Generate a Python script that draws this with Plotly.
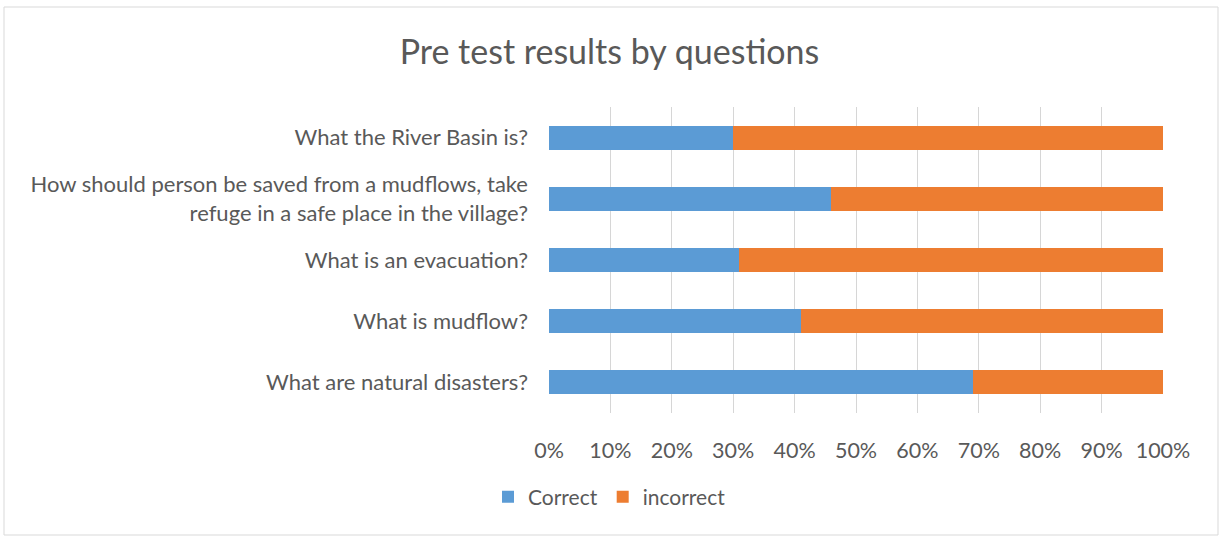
import plotly.graph_objects as go

questions = [
    "What are natural disasters?",
    "What is mudflow?",
    "What is an evacuation?",
    "How should person be saved from a mudflows, take<br>refuge in a safe place in the village?",
    "What the River Basin is?",
]
correct = [69, 41, 31, 46, 30]
incorrect = [31, 59, 69, 54, 70]
tick_vals = [0, 10, 20, 30, 40, 50, 60, 70, 80, 90, 100]
tick_text = [f"{v}%" for v in tick_vals]

W, H = 1219, 536
ml, mr, mt, mb = 549, 56, 107, 123
pw, ph = W - ml - mr, H - mt - mb

font_family = "Lato, 'Open Sans', sans-serif"
txt = "#595959"

fig = go.Figure()
fig.add_trace(go.Bar(y=questions, x=correct, name="Correct", orientation="h",
                     marker=dict(color="#5B9BD5", line=dict(width=0))))
fig.add_trace(go.Bar(y=questions, x=incorrect, name="incorrect", orientation="h",
                     marker=dict(color="#ED7D31", line=dict(width=0))))

fig.update_layout(
    barmode="stack",
    bargap=0.61,
    width=W, height=H,
    margin=dict(l=ml, r=mr, t=mt, b=mb),
    paper_bgcolor="white", plot_bgcolor="white",
    font=dict(family=font_family, color=txt, size=22),
    title=dict(text="Pre test results by questions", x=0.5, xref="container",
               xanchor="center", y=1 - 52 / H, yref="container", yanchor="middle",
               font=dict(size=34, color=txt, family=font_family)),
    legend=dict(orientation="h", x=0.5, xref="container", xanchor="center",
                y=1 - 497 / H, yref="container", yanchor="middle",
                font=dict(size=21, color=txt), itemwidth=30, traceorder="normal"),
    xaxis=dict(range=[0, 100], tickvals=tick_vals, ticktext=tick_text,
               showgrid=True, gridcolor="#d6d6d6", gridwidth=1.3,
               zeroline=False, showline=False, ticks="",
               ticklabelstandoff=22, tickfont=dict(size=21.5, color=txt)),
    yaxis=dict(showgrid=False, zeroline=False, showline=False, ticks="",
               ticklabelstandoff=20, tickfont=dict(size=22, color=txt)),
    shapes=[dict(type="rect", xref="paper", yref="paper",
                 x0=(4 - ml) / pw, x1=(W - 1 - ml) / pw,
                 y0=-(mb - 1) / ph, y1=1 + (mt - 7) / ph,
                 line=dict(color="#d9d9d9", width=1))],
)

fig.write_html("out.html", config={"displayModeBar": False},
               post_script="document.body.style.margin='0';")
